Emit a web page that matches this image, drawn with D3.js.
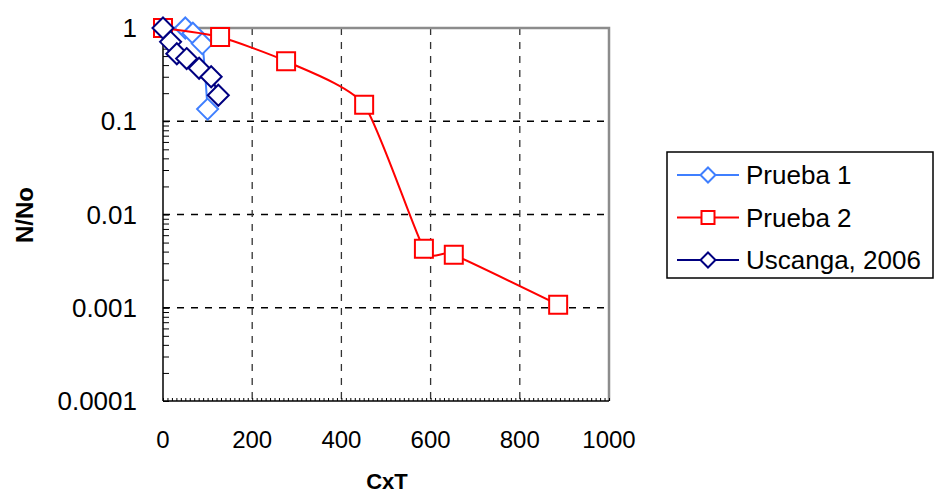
<html>
    <head>
        <meta charset="utf-8">
        <title>N/No vs CxT</title>
        <script src="https://d3js.org/d3.v7.min.js"></script>
        <style>
            body { margin: 0; background: #fff; }
            text { font-family: "Liberation Sans", Arial, sans-serif; }
        </style>
    </head>
    <body>
        <div id="chart"></div>
        <script>
            // Input data
            var p1X = [50, 67, 88, 100]
            var p1Y = [1.0, 0.88, 0.68, 0.135]

            var p2X = [0, 128, 276, 451, 585, 652, 886]
            var p2Y = [1.0, 0.80, 0.44, 0.15, 0.0043, 0.0037, 0.00108]

            var usX = [0, 17, 31, 53, 81, 108, 124]
            var usY = [1.0, 0.71, 0.53, 0.47, 0.37, 0.30, 0.19]

            var xTicks = [0, 200, 400, 600, 800, 1000]
            var yTicks = [1, 0.1, 0.01, 0.001, 0.0001]
            var yLabels = ["1", "0.1", "0.01", "0.001", "0.0001"]

            var series = [
                {name: "Prueba 1", xs: p1X, ys: p1Y, color: "#3f7fff", shape: "diamond"},
                {name: "Prueba 2", xs: p2X, ys: p2Y, color: "#ff0000", shape: "square"},
                {name: "Uscanga, 2006", xs: usX, ys: usY, color: "#000080", shape: "diamond"}
            ]

            var W = 936, H = 493
            // plot box (avoid "top", it is window.top)
            var pL = 163, pR = 609, pT = 28, pB = 401

            var svg = d3.select("#chart").append("svg")
                .attr("width", W)
                .attr("height", H)

            var x = d3.scaleLinear().domain([0, 1000]).range([pL, pR])
            var y = d3.scaleLog().domain([0.0001, 1]).range([pB, pT])

            // gridlines (dashed)
            var grid = svg.append("g")
            grid.selectAll(".hg")
                .data(yTicks.slice(1, 4))
                .enter().append("line")
                .attr("x1", pL).attr("x2", pR)
                .attr("y1", function(d){ return y(d) }).attr("y2", function(d){ return y(d) })
                .attr("stroke", "#000").attr("stroke-width", 1.3)
                .attr("stroke-dasharray", "7,7")
            grid.selectAll(".vg")
                .data(xTicks.slice(1, 5))
                .enter().append("line")
                .attr("x1", function(d){ return x(d) }).attr("x2", function(d){ return x(d) })
                .attr("y1", pT).attr("y2", pB)
                .attr("stroke", "#333").attr("stroke-width", 1.3)
                .attr("stroke-dasharray", "7,7")

            // gray frame on top and right
            svg.append("path")
                .attr("d", "M" + pL + "," + pT + "H" + pR + "V" + pB)
                .attr("fill", "none")
                .attr("stroke", "#8c8c8c")
                .attr("stroke-width", 2.5)

            // x axis with small inner ticks
            var xAxis = d3.axisTop(x)
                .tickValues(d3.range(0, 1001, 10))
                .tickSize(3)
                .tickFormat("")
            var gx = svg.append("g")
                .attr("transform", "translate(0," + pB + ")")
                .call(xAxis)
            gx.select(".domain").remove()
            gx.selectAll("line").attr("stroke", "#000")
            svg.append("line")
                .attr("x1", pL).attr("x2", pR)
                .attr("y1", pB).attr("y2", pB)
                .attr("stroke", "#000").attr("stroke-width", 1.5)

            svg.selectAll(".xl")
                .data(xTicks)
                .enter().append("text")
                .attr("x", function(d){ return x(d) })
                .attr("y", 448)
                .attr("text-anchor", "middle")
                .style("font-size", "24px")
                .text(function(d){ return d })

            // y axis with log minor ticks inside
            var minor = []
            for (var e = -4; e < 0; e++) {
                for (var k = 1; k < 10; k++) minor.push(k * Math.pow(10, e))
            }
            minor.push(1)
            var yAxis = d3.axisRight(y)
                .tickValues(minor)
                .tickSize(6)
                .tickFormat("")
            var gy = svg.append("g")
                .attr("transform", "translate(" + pL + ",0)")
                .call(yAxis)
            gy.select(".domain").remove()
            gy.selectAll("line").attr("stroke", "#000")
            svg.append("line")
                .attr("x1", pL).attr("x2", pL)
                .attr("y1", pT).attr("y2", pB)
                .attr("stroke", "#000").attr("stroke-width", 1.5)

            svg.selectAll(".yl")
                .data(yTicks)
                .enter().append("text")
                .attr("x", 137)
                .attr("y", function(d){ return y(d) + 9 })
                .attr("text-anchor", "end")
                .style("font-size", "26px")
                .text(function(d, i){ return yLabels[i] })

            // axis titles
            svg.append("text")
                .attr("x", 387).attr("y", 489)
                .attr("text-anchor", "middle")
                .style("font-size", "22px").style("font-weight", "bold")
                .text("CxT")
            svg.append("text")
                .attr("transform", "translate(33,215) rotate(-90)")
                .attr("text-anchor", "middle")
                .style("font-size", "24px").style("font-weight", "bold")
                .text("N/No")

            // series: smoothed lines then markers
            var line = d3.line()
                .x(function(d){ return x(d[0]) })
                .y(function(d){ return y(d[1]) })
                .curve(d3.curveCardinal.tension(0.4))

            function marker(shape, s) {
                if (shape == "square") return "M" + (-s) + "," + (-s) + "h" + (2 * s) + "v" + (2 * s) + "h" + (-2 * s) + "Z"
                return "M0," + (-s) + "L" + s + ",0L0," + s + "L" + (-s) + ",0Z"
            }

            series.forEach(function(s) {
                var pts = s.xs.map(function(v, i){ return [v, s.ys[i]] })
                var g = svg.append("g")
                g.append("path")
                    .attr("d", line(pts))
                    .attr("fill", "none")
                    .attr("stroke", s.color)
                    .attr("stroke-width", 2)
                g.selectAll("path.m")
                    .data(pts)
                    .enter().append("path")
                    .attr("class", "m")
                    .attr("transform", function(d){ return "translate(" + x(d[0]) + "," + y(d[1]) + ")" })
                    .attr("d", marker(s.shape, s.shape == "square" ? 9 : 10.5))
                    .attr("fill", "#fff")
                    .attr("stroke", s.color)
                    .attr("stroke-width", 2)
            })

            // legend
            var lg = svg.append("g")
            lg.append("rect")
                .attr("x", 667).attr("y", 152)
                .attr("width", 266).attr("height", 126)
                .attr("fill", "#fff")
                .attr("stroke", "#000").attr("stroke-width", 1.5)
            series.forEach(function(s, i) {
                var ly = 175 + i * 42.5
                lg.append("line")
                    .attr("x1", 677).attr("x2", 739)
                    .attr("y1", ly).attr("y2", ly)
                    .attr("stroke", s.color).attr("stroke-width", 2)
                lg.append("path")
                    .attr("transform", "translate(708," + ly + ")")
                    .attr("d", marker(s.shape, s.shape == "square" ? 6.5 : 7.5))
                    .attr("fill", "#fff")
                    .attr("stroke", s.color).attr("stroke-width", 2)
                lg.append("text")
                    .attr("x", 746).attr("y", ly + 9)
                    .style("font-size", "26px")
                    .text(s.name)
            })
        </script>
    </body>
</html>
